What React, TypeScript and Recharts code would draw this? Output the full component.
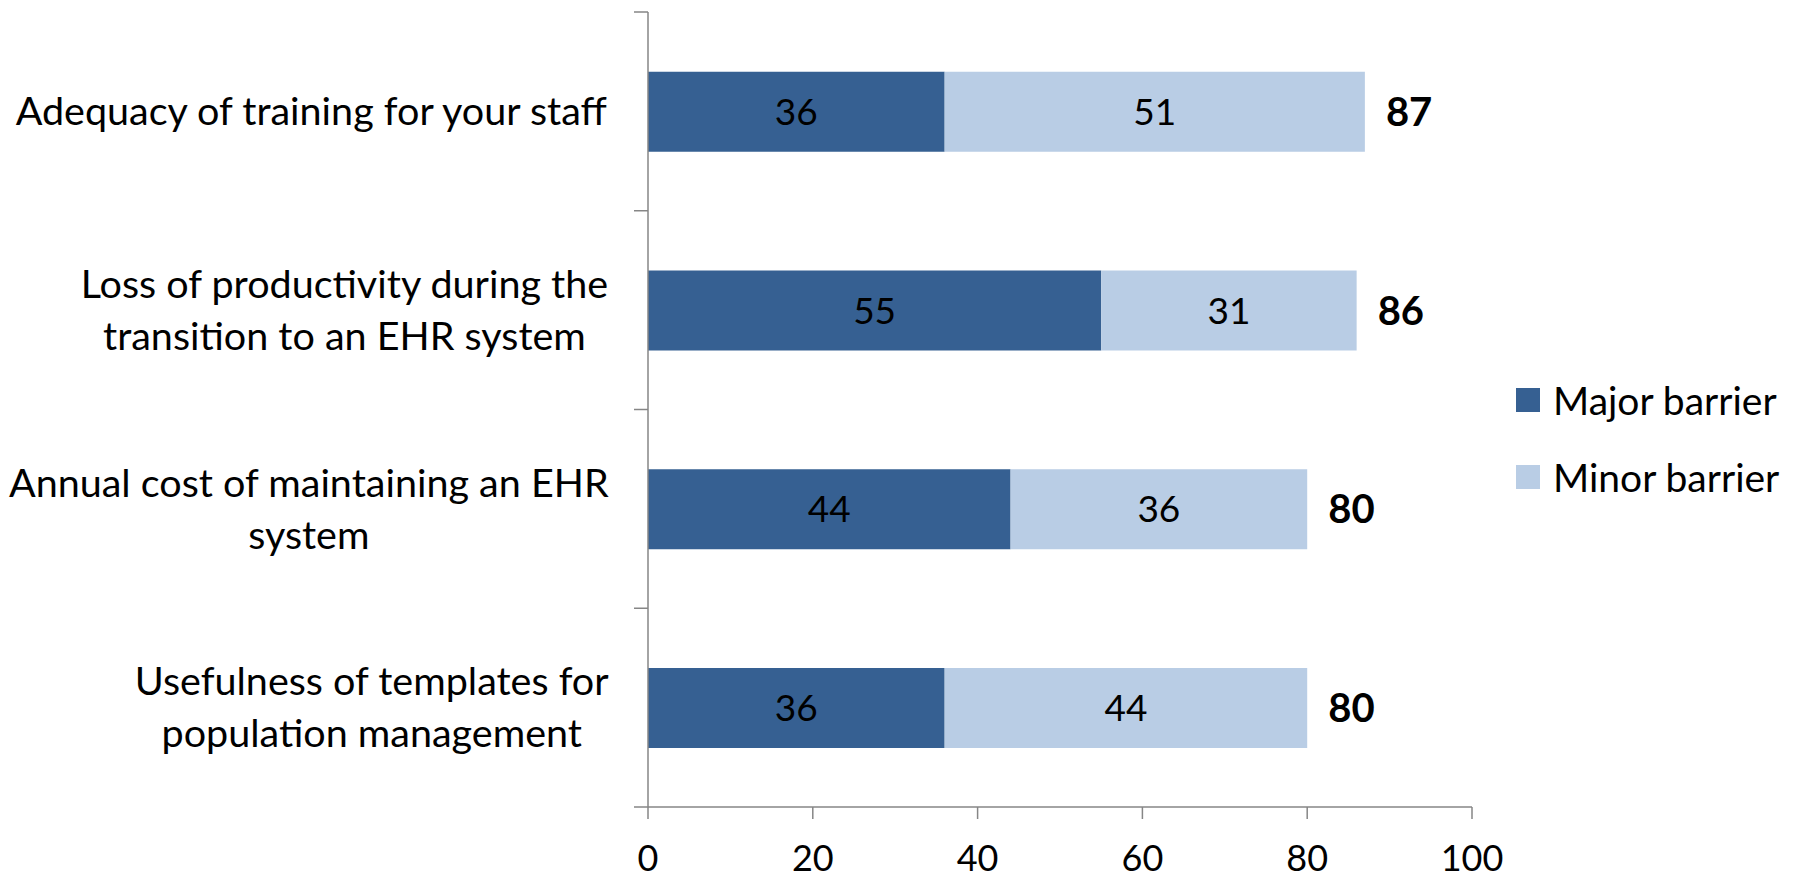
import React from 'react';
import { BarChart, Bar, XAxis, YAxis, Legend, LabelList } from 'recharts';

const categories = [
  'Adequacy of training for your staff',
  'Loss of productivity during the\ntransition to an EHR system',
  'Annual cost of maintaining an EHR\nsystem',
  'Usefulness of templates for\npopulation management',
];
const majorValues = [36, 55, 44, 36];
const minorValues = [51, 31, 36, 44];
const seriesNames = ['Major barrier', 'Minor barrier'];
const seriesColors = ['#366092', '#B9CDE5'];
const xTicks = [0, 20, 40, 60, 80, 100];

const data = categories.map((c, i) => ({
  category: c,
  major: majorValues[i],
  minor: minorValues[i],
  total: majorValues[i] + minorValues[i],
}));

const FONT = 'Lato, Carlito, Calibri, sans-serif';
const W = 1804;
const H = 879;
const MARGIN = { top: 12, right: 332, bottom: 0, left: 0 };
const YAXIS_W = 648;
const XAXIS_H = 72;
const AXIS_COLOR = '#868686';
const LABEL_FS = 39.5;
const LINE_H = 52;

const plotH = H - MARGIN.top - MARGIN.bottom - XAXIS_H;
const BAND = plotH / categories.length;
const AXIS_X = MARGIN.left + YAXIS_W;

let ctx: CanvasRenderingContext2D | null = null;
function measure(text: string, fs: number): number {
  if (!ctx) {
    const c = document.createElement('canvas');
    ctx = c.getContext('2d');
  }
  if (!ctx) return text.length * fs * 0.45;
  ctx.font = `${fs}px Lato`;
  return ctx.measureText(text).width;
}

function CategoryTick(props: any) {
  const { y, payload, index } = props;
  const lines = String(payload.value).split('\n');
  const maxW = Math.max(...lines.map((l) => measure(l, LABEL_FS)));
  const right = AXIS_X - 39;
  const cx = right - maxW / 2;
  const startY = y - ((lines.length - 1) * LINE_H) / 2;
  return (
    <g>
      <line x1={AXIS_X - 14} x2={AXIS_X} y1={y - BAND / 2} y2={y - BAND / 2} stroke={AXIS_COLOR} strokeWidth={1.5} />
      {index === categories.length - 1 && (
        <line x1={AXIS_X - 14} x2={AXIS_X} y1={y + BAND / 2} y2={y + BAND / 2} stroke={AXIS_COLOR} strokeWidth={1.5} />
      )}
      <text textAnchor="middle" fontFamily={FONT} fontSize={LABEL_FS} fill="#000">
        {lines.map((l, i) => (
          <tspan key={i} x={cx} y={startY + i * LINE_H} dy="0.35em">
            {l}
          </tspan>
        ))}
      </text>
    </g>
  );
}

function LegendContent() {
  return (
    <div style={{ position: 'absolute', left: 0, top: 0, width: 290 }}>
      {seriesNames.map((n, i) => (
        <div
          key={n}
          style={{ display: 'flex', alignItems: 'center', height: 24, marginBottom: 53, whiteSpace: 'nowrap' }}
        >
          <div style={{ width: 24, height: 24, background: seriesColors[i], flex: 'none' }} />
          <span style={{ marginLeft: 13, fontFamily: FONT, fontSize: 39, color: '#000', lineHeight: '24px' }}>{n}</span>
        </div>
      ))}
    </div>
  );
}

export default function App() {
  return (
    <div style={{ position: 'absolute', left: 0, top: 0, width: W, height: H, background: '#fff' }}>
      <BarChart width={W} height={H} data={data} layout="vertical" margin={MARGIN} barCategoryGap="30%">
        <XAxis
          type="number"
          domain={[0, 100]}
          ticks={xTicks}
          interval={0}
          height={XAXIS_H}
          tickSize={12}
          tickMargin={26}
          axisLine={{ stroke: AXIS_COLOR, strokeWidth: 1.5 }}
          tickLine={{ stroke: AXIS_COLOR, strokeWidth: 1.5 }}
          tick={{ fill: '#000', fontSize: 36, fontFamily: FONT }}
        />
        <YAxis
          type="category"
          dataKey="category"
          width={YAXIS_W}
          interval={0}
          tickLine={false}
          axisLine={{ stroke: AXIS_COLOR, strokeWidth: 1.5 }}
          tick={<CategoryTick />}
        />
        <Legend
          content={<LegendContent />}
          wrapperStyle={{ left: 1516, top: 388, width: 0, height: 0, overflow: 'visible' }}
        />
        <Bar dataKey="major" name={seriesNames[0]} stackId="a" fill={seriesColors[0]} isAnimationActive={false}>
          <LabelList dataKey="major" position="center" fill="#000" fontSize={37} fontFamily={FONT} />
        </Bar>
        <Bar dataKey="minor" name={seriesNames[1]} stackId="a" fill={seriesColors[1]} isAnimationActive={false}>
          <LabelList dataKey="minor" position="center" fill="#000" fontSize={37} fontFamily={FONT} />
          <LabelList dataKey="total" position="right" offset={21} fill="#000" fontSize={40} fontWeight="bold" fontFamily={FONT} />
        </Bar>
      </BarChart>
    </div>
  );
}
